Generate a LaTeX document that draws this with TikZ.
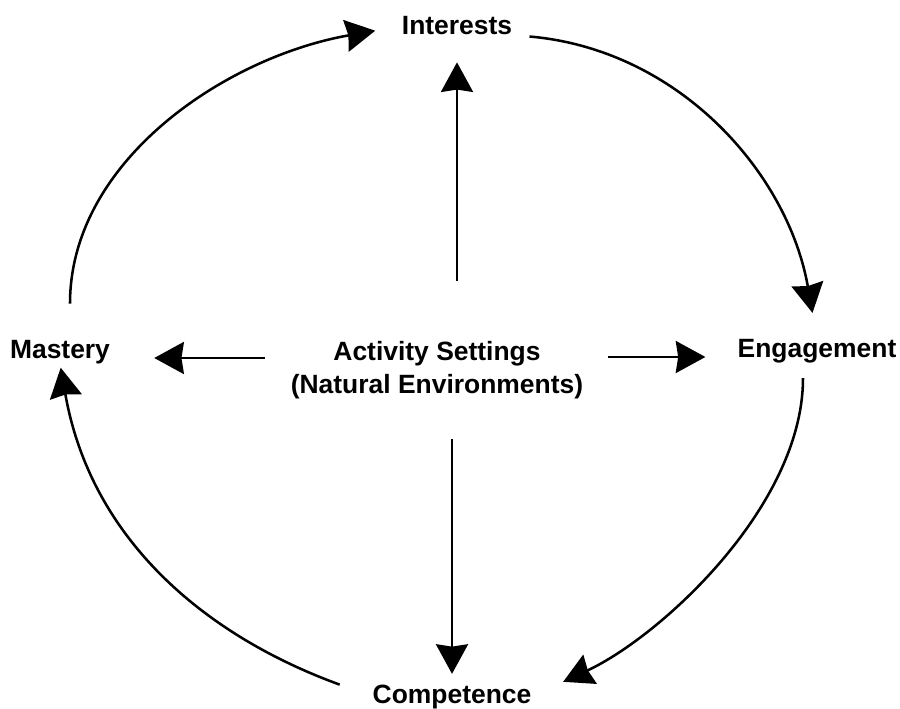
\documentclass[tikz,border=0pt]{standalone}
\usepackage{fontspec}
\setmainfont{Liberation Sans}
\usepackage{tikz}
\usetikzlibrary{arrows.meta,positioning,calc}

\begin{document}
\begin{tikzpicture}[
    x=0.025cm, y=-0.025cm,
    term/.style={inner sep=0pt, font=\bfseries\fontsize{18.8}{23.5}\selectfont},
    arr/.style={line width=1.8pt, -{Stealth[length=0.74cm, width=0.8cm, inset=0.06cm]}}
]
\useasboundingbox (0,0) rectangle (900,709);

% Outer terms
\node (interests) at (457,35) [term, anchor=base] {Interests};
\node (mastery) at (60,358) [term, anchor=base] {Mastery};
\node (engagement) at (817,357) [term, anchor=base] {Engagement};
\node (competence) at (452,703) [term, anchor=base] {Competence};

% Center
\node (activity) at (437,370) [term, align=center] {Activity Settings\\(Natural Environments)};

% Spokes
\draw[arr, shorten <=1.5cm, shorten >=0.67cm] (interests |- activity.north) -- (interests.south);
\draw[arr, shorten <=1.0cm, shorten >=0.26cm] (competence |- activity.south) -- (competence.north);
\draw[arr, shorten <=0.64cm, shorten >=1.1cm] (activity.west |- mastery.base east) -- (mastery.base east);
\draw[arr, shorten <=0.61cm, shorten >=0.8cm] (activity.east |- engagement.base west) -- (engagement.base west);

% Cycle
\draw[arr, shorten <=0.9cm, shorten >=0.67cm] ([xshift=0.25cm]mastery.north) to[out=90, in=190] (interests.west);
\draw[arr, shorten <=0.43cm, shorten >=0.65cm] (interests.base east) to[out=-5, in=100] (engagement.north);
\draw[arr, shorten <=0.38cm, shorten >=0.87cm] ([xshift=-0.35cm]engagement.south) to[out=-90, in=25, looseness=0.85] (competence.east);
\draw[arr, shorten <=0.87cm, shorten >=0.1cm] (competence.west) to[out=160, in=-80] (mastery.south);

\end{tikzpicture}
\end{document}
